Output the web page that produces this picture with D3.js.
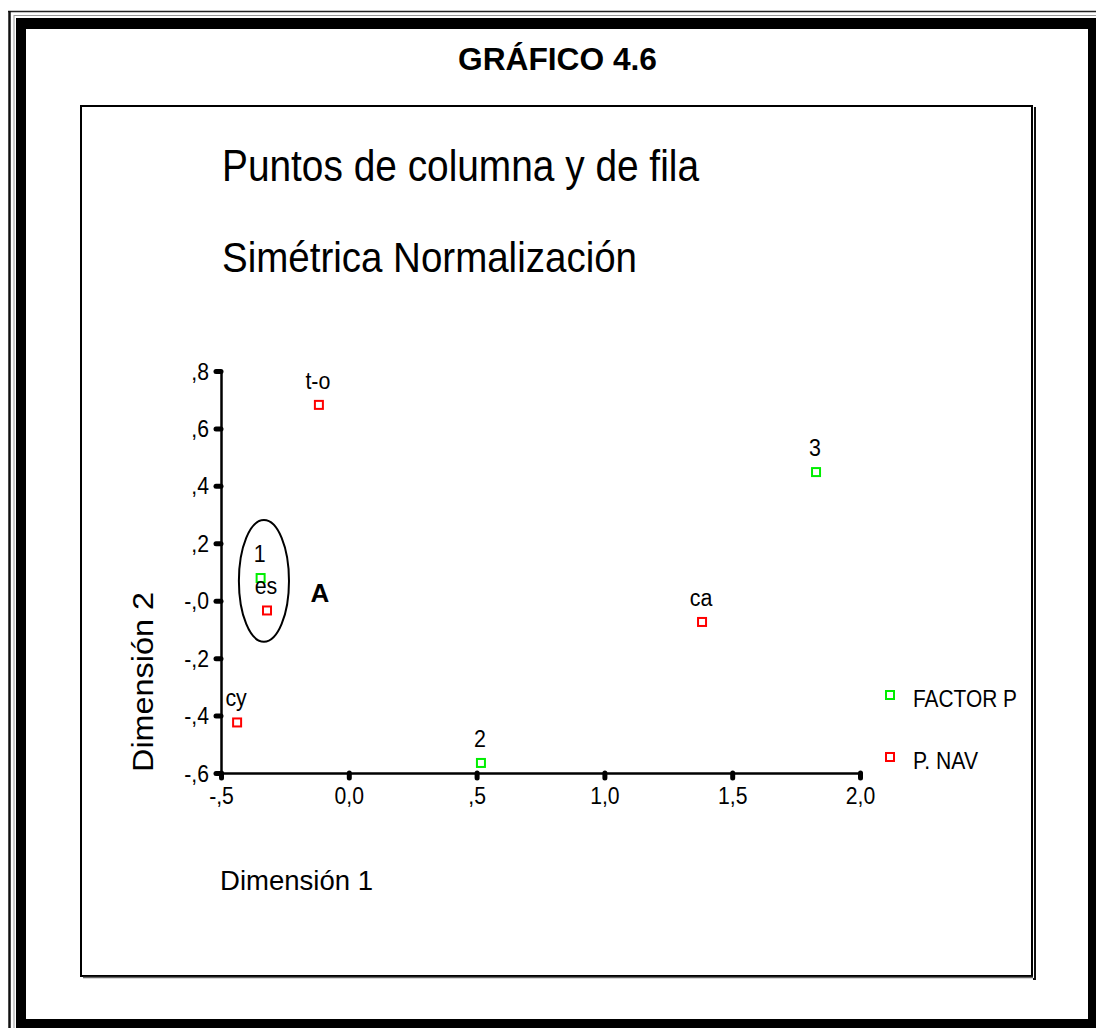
<!DOCTYPE html>
<html><head><meta charset="utf-8">
<script src="https://cdn.jsdelivr.net/npm/d3@7"></script>
<style>html,body{margin:0;padding:0;background:#fff;}svg{display:block;}text{font-family:"Liberation Sans",Arial,sans-serif;fill:#000;}</style>
</head><body>
<svg id="c" width="1096" height="1028"></svg>
<script>
// ---- data ----
const pointLabels = ["t-o", "3", "1", "es", "ca", "cy", "2"];
const pointGroups = ["P. NAV", "FACTOR P", "FACTOR P", "P. NAV", "P. NAV", "P. NAV", "FACTOR P"];
const dim1 = [-0.117, 1.828, -0.345, -0.320, 1.382, -0.437, 0.517];
const dim2 = [0.682, 0.448, 0.079, -0.034, -0.074, -0.424, -0.565];
const xTickValues = [-0.5, 0.0, 0.5, 1.0, 1.5, 2.0];
const xTickLabels = ["-,5", "0,0", ",5", "1,0", "1,5", "2,0"];
const yTickValues = [0.8, 0.6, 0.4, 0.2, 0.0, -0.2, -0.4, -0.6];
const yTickLabels = [",8", ",6", ",4", ",2", "-,0", "-,2", "-,4", "-,6"];
const legendItems = ["FACTOR P", "P. NAV"];
const groupColors = ["#00ee00", "#ff0000"];
const ellipseCenter = [-0.332, 0.069];
const ellipseRadii = [0.098, 0.212];

const svg = d3.select("#c");

// condense text horizontally (reference uses narrow, tightly set glyphs)
function condense(sel, factor) {
  sel.each(function() {
    const w = this.getComputedTextLength();
    d3.select(this).attr("textLength", w * factor).attr("lengthAdjust", "spacingAndGlyphs");
  });
}

// ---- page frame ----
svg.append("rect").attr("x",0).attr("y",0).attr("width",1096).attr("height",1028).attr("fill","#fff");
svg.append("line").attr("x1",8).attr("x2",1096).attr("y1",11.5).attr("y2",11.5).attr("stroke","#222").attr("stroke-width",1.5);
svg.append("line").attr("x1",9.5).attr("x2",9.5).attr("y1",11).attr("y2",1028).attr("stroke","#111").attr("stroke-width",2.5);
svg.append("line").attr("x1",14).attr("x2",1096).attr("y1",15.5).attr("y2",15.5).attr("stroke","#999").attr("stroke-width",1);
svg.append("line").attr("x1",14).attr("x2",14).attr("y1",15).attr("y2",1028).attr("stroke","#999").attr("stroke-width",1);
const fr = svg.append("g").attr("fill","#000");
fr.append("rect").attr("x",16).attr("y",18).attr("width",10).attr("height",1010);
fr.append("rect").attr("x",16).attr("y",18).attr("width",1080).attr("height",11);
fr.append("rect").attr("x",1088).attr("y",18).attr("width",8).attr("height",1010);
fr.append("rect").attr("x",16).attr("y",1019).attr("width",1080).attr("height",9);

// title
svg.append("text").attr("x",458).attr("y",70)
  .attr("font-size",31).attr("font-weight","bold")
  .attr("textLength",199).attr("lengthAdjust","spacingAndGlyphs").text("GRÁFICO 4.6");

// inner chart box with shadow
svg.append("rect").attr("x",81).attr("y",106).attr("width",951).attr("height",870)
  .attr("fill","none").attr("stroke","#000").attr("stroke-width",2);
svg.append("line").attr("x1",83).attr("x2",1033).attr("y1",977.5).attr("y2",977.5).attr("stroke","#666").attr("stroke-width",1.5);
svg.append("line").attr("x1",1035).attr("x2",1035).attr("y1",107).attr("y2",979).attr("stroke","#111").attr("stroke-width",2);
svg.append("line").attr("x1",1033).attr("x2",1036).attr("y1",979).attr("y2",979).attr("stroke","#111").attr("stroke-width",2);

// chart titles
svg.append("text").attr("x",222).attr("y",181).attr("font-size",44)
  .attr("textLength",477).attr("lengthAdjust","spacingAndGlyphs").text("Puntos de columna y de fila");
svg.append("text").attr("x",222).attr("y",272).attr("font-size",43)
  .attr("textLength",415).attr("lengthAdjust","spacingAndGlyphs").text("Simétrica Normalización");

// ---- scales ----
const x = d3.scaleLinear().domain([-0.5, 2.0]).range([221, 860]);
const y = d3.scaleLinear().domain([-0.6, 0.8]).range([773, 371]);

const xAxis = d3.axisBottom(x).tickValues(xTickValues)
  .tickFormat((d,i) => xTickLabels[i]).tickSize(5).tickSizeOuter(0).tickPadding(10);
const yAxis = d3.axisLeft(y).tickValues(yTickValues)
  .tickFormat((d,i) => yTickLabels[i]).tickSize(5).tickSizeOuter(0).tickPadding(7);

const gx = svg.append("g").attr("transform","translate(0,773)").call(xAxis);
const gy = svg.append("g").attr("transform","translate(221,0)").call(yAxis);
[gx, gy].forEach(g => {
  g.attr("font-size",23).attr("font-family","Liberation Sans, Arial, sans-serif");
  g.select(".domain").attr("stroke","#000").attr("stroke-width",2.5);
  g.selectAll(".tick line").attr("stroke","#000").attr("stroke-width",5).attr("stroke-linecap","round");
  g.selectAll(".tick text").attr("font-size",23).attr("fill","#000");
  condense(g.selectAll(".tick text"), 0.92);
});
gx.selectAll(".tick text").attr("dy","0.71em");
gy.selectAll(".tick text").attr("dy","0.35em");

// axis titles
svg.append("text").attr("transform","translate(153,682) rotate(-90)").attr("text-anchor","middle")
  .attr("font-size",29).attr("textLength",180).attr("lengthAdjust","spacingAndGlyphs").text("Dimensión 2");
svg.append("text").attr("x",220).attr("y",890).attr("font-size",28)
  .attr("textLength",153).attr("lengthAdjust","spacingAndGlyphs").text("Dimensión 1");

// ellipse annotation
const ex = x(ellipseCenter[0]), ey = y(ellipseCenter[1]);
const erx = x(ellipseCenter[0] + ellipseRadii[0]) - ex;
const ery = ey - y(ellipseCenter[1] + ellipseRadii[1]);
svg.append("ellipse").attr("cx",ex).attr("cy",ey).attr("rx",erx).attr("ry",ery)
  .attr("fill","none").attr("stroke","#000").attr("stroke-width",2);
svg.append("text").attr("x",x(ellipseCenter[0]) + 56).attr("y",y(ellipseCenter[1]) + 21)
  .attr("text-anchor","middle").attr("font-size",26).attr("font-weight","bold").text("A");

// points
const pts = pointLabels.map((l,i) => ({label:l, group:pointGroups[i], x:dim1[i], y:dim2[i]}));
const color = d3.scaleOrdinal().domain(legendItems).range(groupColors);
const gp = svg.append("g");
gp.selectAll("rect").data(pts).join("rect")
  .attr("x", d => x(d.x) - 4).attr("y", d => y(d.y) - 4)
  .attr("width",8).attr("height",8).attr("fill","#fff")
  .attr("stroke", d => color(d.group)).attr("stroke-width",2);
const lbl = gp.selectAll("text").data(pts).join("text")
  .attr("x", d => x(d.x) - 1).attr("y", d => y(d.y) - 16)
  .attr("text-anchor","middle").attr("font-size",23).text(d => d.label);
condense(lbl, 0.93);

// legend
const lg = svg.append("g");
legendItems.forEach((name,i) => {
  const ly = 695 + i*62;
  lg.append("rect").attr("x",886).attr("y",ly-4).attr("width",8).attr("height",8)
    .attr("fill","#fff").attr("stroke",color(name)).attr("stroke-width",2);
  lg.append("text").attr("x",913).attr("y",ly+12).attr("font-size",23)
    .attr("textLength", i===0 ? 104 : 65).attr("lengthAdjust","spacingAndGlyphs").text(name);
});
</script>
</body></html>
